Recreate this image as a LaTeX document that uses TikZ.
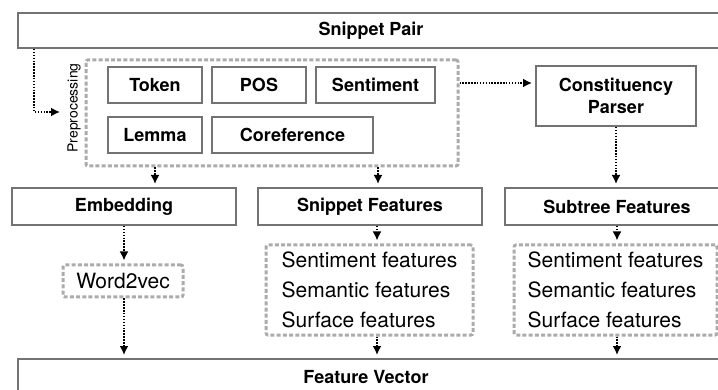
\documentclass[tikz,border=0pt]{standalone}
\usepackage{fontspec}
\setmainfont{TeX Gyre Heros}
\usetikzlibrary{arrows.meta}
\tikzstyle{stage}=[rectangle, draw=black!55, line width=2pt,
                   inner sep=0pt, font=\fontsize{18}{22}\selectfont\bfseries]
\tikzstyle{group}=[rectangle, draw=black!33, line width=3pt,
                   dash pattern=on 4pt off 2.2pt, rounded corners=2pt,
                   inner sep=0pt, font=\fontsize{21}{30}\selectfont]

\begin{document}
\begin{tikzpicture}[x=1pt,y=-1pt]
  \tikzstyle{flow}=[black, line width=2pt, dash pattern=on 1.5pt off 1.4pt,
                    -{Latex[length=9pt,width=9pt]}, shorten >=3pt]
  \useasboundingbox (0,0) rectangle (718,390);
  \clip (0,0) rectangle (718,390);
  % boxes
  \node (snippetpair) at (371,30.5) [stage,minimum width=706pt,minimum height=35pt] {Snippet Pair};
  \node (preproc) at (272,113) [group,minimum width=372pt,minimum height=106pt] {};
  \node (preproclabel) at (74,108) [rotate=90,font=\fontsize{14}{14}\selectfont] {Preprocessing};
  \node (token) at (155,85) [stage,minimum width=94pt,minimum height=36pt] {Token};
  \node (pos) at (259,85) [stage,minimum width=94pt,minimum height=36pt] {POS};
  \node (sentiment) at (375.5,85) [stage,minimum width=119pt,minimum height=36pt] {Sentiment};
  \node (lemma) at (155,135) [stage,minimum width=94pt,minimum height=36pt] {Lemma};
  \node (coreference) at (292.5,135) [stage,minimum width=161pt,minimum height=36pt] {Coreference};
  \node (parser) at (616,96) [stage,minimum width=160pt,minimum height=60pt,align=center] {Constituency\\Parser};
  \node (embedding) at (124,206.5) [stage,minimum width=224pt,minimum height=37pt] {Embedding};
  \node (snippetfeat) at (370,206.5) [stage,minimum width=224pt,minimum height=37pt] {Snippet Features};
  \node (subtreefeat) at (617,206.5) [stage,minimum width=224pt,minimum height=37pt] {Subtree Features};
  \node (word2vec) at (123,281) [group,minimum width=120pt,minimum height=32pt] {Word2vec};
  \node (snippetlist) at (369.5,290) [group,minimum width=207pt,minimum height=90pt,align=left]
    {Sentiment features\\Semantic features\\Surface features};
  \node (subtreelist) at (615.5,290) [group,minimum width=203pt,minimum height=90pt,align=left]
    {Sentiment features\\Semantic features\\Surface features};
  \node (featvec) at (371,380) [stage,minimum width=706pt,minimum height=42pt,text depth=0pt] {};
  \node (featveclabel) at (366,377) [font=\fontsize{18}{22}\selectfont\bfseries] {Feature Vector};
  \coordinate (preprocin) at (63,112);
  % arrows
  \draw [flow] ([xshift=17pt]snippetpair.south west) |- (preprocin);
  \draw [flow] (preproc.east |- 0,83) -- (parser.west |- 0,83);
  \draw [flow] (parser.south) -- (parser.south |- subtreefeat.north);
  \draw [flow] (preproc.south -| lemma) -- (embedding.north -| lemma);
  \draw [flow] (preproc.south -| 378,0) -- (snippetfeat.north -| 378,0);
  \draw [flow] (embedding.south) -- (word2vec.north -| embedding);
  \draw [flow] (word2vec.south -| embedding) -- (featvec.north -| embedding);
  \draw [flow] (snippetfeat.south -| 377,0) -- (snippetlist.north -| 377,0);
  \draw [flow] (snippetlist.south -| 377,0) -- (featvec.north -| 377,0);
  \draw [flow] (subtreefeat.south -| 617,0) -- (subtreelist.north -| 617,0);
  \draw [flow] (subtreelist.south -| 617,0) -- (featvec.north -| 617,0);
\end{tikzpicture}
\end{document}
